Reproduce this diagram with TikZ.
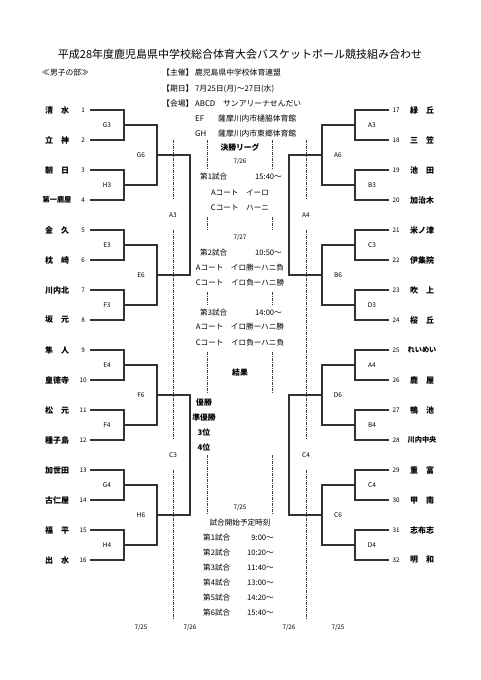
\documentclass[tikz,border=0pt]{standalone}
\usepackage{fontspec}
\setmainfont{Noto Sans CJK JP}
\usepackage{tikz}

\begin{document}
\begin{tikzpicture}[x=1pt, y=-1pt,
    bline/.style={draw=black!80, line width=1.1pt},
    guide/.style={draw=black!75, line width=0.45pt, dash pattern=on 3pt off 1.2pt on 0.6pt off 1.2pt},
    team/.style={font=\fontsize{8}{9}\selectfont\bfseries},
    num/.style={font=\fontsize{6.3}{7}\selectfont},
    game/.style={font=\fontsize{6.5}{8}\selectfont},
    info/.style={font=\fontsize{7.8}{9}\selectfont, inner sep=0pt},
    sched/.style={font=\fontsize{7.6}{9}\selectfont, inner sep=0pt},
    bold/.style={font=\fontsize{7.8}{9}\selectfont\bfseries, inner sep=0pt}]
  \useasboundingbox (0,0) rectangle (481,680);

  % title and header
  \node[font=\fontsize{11}{13}\selectfont] (title) at (240,54) {平成28年度鹿児島県中学校総合体育大会バスケットボール競技組み合わせ};
  \node[info, anchor=west] (div) at (42,73) {≪男子の部≫};
  \node[info, anchor=west] (org) at (162,73) {【主催】 鹿児島県中学校体育連盟};
  \node[info, anchor=west] (date) at (162,89) {【期日】 7月25日(月)～27日(水)};
  \node[info, anchor=west] (venue) at (162,104) {【会場】 ABCD　サンアリーナせんだい};
  \node[info, anchor=west] (ef) at (195,119) {EF};
  \node[info, anchor=west] (efv) at (218,119) {薩摩川内市樋脇体育館};
  \node[info, anchor=west] (gh) at (195,134) {GH};
  \node[info, anchor=west] (ghv) at (218,134) {薩摩川内市東郷体育館};

  % both halves of the bracket, the right one mirrored
  \foreach \sd/\sx/\xs/\off/\names/\ra/\rb/\rc in {
      L/0/1/0/{清　水,立　神,朝　日,{\fontsize{7.2}{8}\selectfont\bfseries 第一鹿屋},金　久,枕　崎,川内北,坂　元,隼　人,皇徳寺,松　元,種子島,加世田,古仁屋,福　平,出　水}/{G3,H3,E3,F3,E4,F4,G4,H4}/{G6,E6,F6,H6}/{A3,C3},
      R/479/-1/16/{緑　丘,三　笠,池　田,加治木,米ノ津,伊集院,吹　上,桜　丘,{\fontsize{7.2}{8}\selectfont\bfseries れいめい},鹿　屋,鴨　池,{\fontsize{7.2}{8}\selectfont\bfseries 川内中央},重　富,甲　南,志布志,明　和}/{A3,B3,C3,D3,A4,B4,C4,D4}/{A6,B6,D6,C6}/{A4,C4}} {
    \begin{scope}[shift={(\sx,0)}, xscale=\xs]
      \foreach \nm [count=\i] in \names {
        \pgfmathtruncatemacro\n{\i+\off}
        \pgfmathsetmacro\yy{110+30*(\i-1)}
        \coordinate (t\n) at (90,\yy);
        \node[num] (n\n) at (83,\yy) {\n};
        \node[team] (tm\n) at (57,\yy) {\nm};
      }
      % first round
      \foreach \lab [count=\j] in \ra {
        \pgfmathtruncatemacro\a{2*\j-1+\off}
        \pgfmathtruncatemacro\b{2*\j+\off}
        \coordinate (\sd g\j) at (124,{125+60*(\j-1)});
        \draw[bline] (t\a) -| (\sd g\j) |- (t\b);
        \node[game] (\sd gl\j) at (107,{125+60*(\j-1)}) {\lab};
      }
      % second round
      \foreach \lab [count=\k] in \rb {
        \pgfmathtruncatemacro\a{2*\k-1}
        \pgfmathtruncatemacro\b{2*\k}
        \coordinate (\sd h\k) at (157,{155+120*(\k-1)});
        \draw[bline] (\sd g\a) -| (\sd h\k) |- (\sd g\b);
        \node[game] (\sd hl\k) at (141,{155+120*(\k-1)}) {\lab};
      }
      % third round, 7/26
      \foreach \lab [count=\m] in \rc {
        \pgfmathtruncatemacro\a{2*\m-1}
        \pgfmathtruncatemacro\b{2*\m}
        \coordinate (\sd k\m) at (190,{215+240*(\m-1)});
        \draw[bline] (\sd h\a) -| (\sd k\m) |- (\sd h\b);
        \node[game] (\sd kl\m) at (173,{215+240*(\m-1)}) {\lab};
      }
      \draw[guide] (173,140) -- (173,200) (173,230) -- (173,440) (173,470) -- (173,620);
      \node[num] (\sd d1) at (141,628) {7/25};
      \node[num] (\sd d2) at (190,628) {7/26};
    \end{scope}
  }

  % final league
  \foreach \gx in {207,272}
    \draw[guide] (\gx,140) -- (\gx,170) (\gx,217) -- (\gx,230) (\gx,292) -- (\gx,305)
      (\gx,352) -- (\gx,393) (\gx,455) -- (\gx,515);
  \node[bold] (league) at (240,147) {決勝リーグ};
  \node[num] (day2) at (240,162) {7/26};
  \node[sched, anchor=west] (m1) at (200,177) {第1試合};
  \node[sched, anchor=east] (m1t) at (282,177) {15:40～};
  \node[sched] (m1a) at (240,193) {Aコート　イーロ};
  \node[sched] (m1c) at (240,208) {Cコート　ハーニ};
  \node[num] (day3) at (240,238) {7/27};
  \node[sched, anchor=west] (m2) at (200,253) {第2試合};
  \node[sched, anchor=east] (m2t) at (282,253) {10:50～};
  \node[sched] (m2a) at (240,268) {Aコート　イロ勝ーハニ負};
  \node[sched] (m2c) at (240,283) {Cコート　イロ負ーハニ勝};
  \node[sched, anchor=west] (m3) at (200,313) {第3試合};
  \node[sched, anchor=east] (m3t) at (282,313) {14:00～};
  \node[sched] (m3a) at (240,327) {Aコート　イロ勝ーハニ勝};
  \node[sched] (m3c) at (240,343) {Cコート　イロ負ーハニ負};
  \node[bold] (result) at (240,373) {結果};
  \foreach \r [count=\i] in {優勝,準優勝,3位,4位}
    \node[bold] (res\i) at (204,{388+15*\i}) {\r};

  % start times
  \node[num] (day1) at (240,508) {7/25};
  \node[sched] (plan) at (240,523) {試合開始予定時刻};
  \foreach \tm [count=\i] in {9:00～,10:20～,11:40～,13:00～,14:20～,15:40～} {
    \node[sched, anchor=west] (s\i) at (203,{523+15*\i}) {第\i{}試合};
    \node[sched, anchor=east] (st\i) at (274,{523+15*\i}) {\tm};
  }
\end{tikzpicture}
\end{document}
